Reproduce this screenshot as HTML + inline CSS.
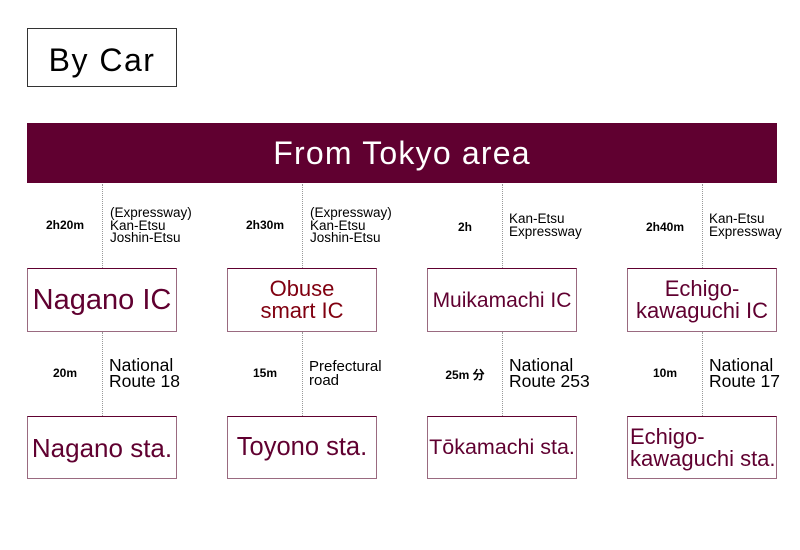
<!DOCTYPE html>
<html><head><meta charset="utf-8"><style>
body{margin:0;width:800px;height:550px;background:#fff;position:relative;font-family:"Liberation Sans","Noto Sans CJK JP",sans-serif;overflow:hidden}
.a{position:absolute}
.bc{left:27px;top:28px;width:148px;height:57px;border:1px solid #333;font-size:32px;letter-spacing:1.5px;line-height:62px;text-align:center;color:#000}
.hd{left:27px;top:123px;width:750px;height:60px;background:#600030;color:#fff;font-size:32px;letter-spacing:1.2px;line-height:60px;text-align:center}
.dl{width:0;border-left:1px dotted #999}
.bx{width:148px;border:1px solid #9a6a80;border-top-color:#600030;color:#600030;display:flex;align-items:center;justify-content:center;text-align:center;line-height:1.0}
.t{font-size:12px;font-weight:bold;width:76px;text-align:center;color:#000}
.n{font-size:13.5px;line-height:12.5px;color:#000}
.n2{font-size:17.5px;line-height:15.5px;color:#000}
</style></head><body>
<div class="a bc">By Car</div>
<div class="a hd">From Tokyo area</div>

<div class="a dl" style="left:102px;top:184px;height:84px"></div>
<div class="a dl" style="left:302px;top:184px;height:84px"></div>
<div class="a dl" style="left:502px;top:184px;height:84px"></div>
<div class="a dl" style="left:702px;top:184px;height:84px"></div>
<div class="a dl" style="left:102px;top:332px;height:84px"></div>
<div class="a dl" style="left:302px;top:332px;height:84px"></div>
<div class="a dl" style="left:502px;top:332px;height:84px"></div>
<div class="a dl" style="left:702px;top:332px;height:84px"></div>

<div class="a t" style="left:27px;top:218px">2h20m</div>
<div class="a t" style="left:227px;top:218px">2h30m</div>
<div class="a t" style="left:427px;top:220px">2h</div>
<div class="a t" style="left:627px;top:220px">2h40m</div>
<div class="a n" style="left:110px;top:207px">(Expressway)<br>Kan-Etsu<br>Joshin-Etsu</div>
<div class="a n" style="left:310px;top:207px">(Expressway)<br>Kan-Etsu<br>Joshin-Etsu</div>
<div class="a n" style="left:509px;top:213px">Kan-Etsu<br>Expressway</div>
<div class="a n" style="left:709px;top:213px">Kan-Etsu<br>Expressway</div>

<div class="a bx" style="left:27px;top:268px;height:62px;font-size:29px">Nagano IC</div>
<div class="a bx" style="left:227px;top:268px;height:62px;font-size:22px;color:#800010">Obuse<br>smart IC</div>
<div class="a bx" style="left:427px;top:268px;height:62px;font-size:21px">Muikamachi IC</div>
<div class="a bx" style="left:627px;top:268px;height:62px;font-size:22px">Echigo-<br>kawaguchi IC</div>

<div class="a t" style="left:27px;top:366px">20m</div>
<div class="a t" style="left:227px;top:366px">15m</div>
<div class="a t" style="left:427px;top:366px">25m 分</div>
<div class="a t" style="left:627px;top:366px">10m</div>
<div class="a n2" style="left:109px;top:358px">National<br>Route 18</div>
<div class="a n" style="left:309px;top:360px;font-size:15px;line-height:14px">Prefectural<br>road</div>
<div class="a n2" style="left:509px;top:358px">National<br>Route 253</div>
<div class="a n2" style="left:709px;top:358px">National<br>Route 17</div>

<div class="a bx" style="left:27px;top:416px;height:61px;font-size:26px">Nagano sta.</div>
<div class="a bx" style="left:227px;top:416px;height:61px;font-size:25.5px">Toyono sta.</div>
<div class="a bx" style="left:427px;top:416px;height:61px;font-size:21.5px">Tōkamachi sta.</div>
<div class="a bx" style="left:627px;top:416px;height:61px;font-size:22px;justify-content:flex-start;text-align:left;padding-left:2px;width:146px">Echigo-<br>kawaguchi sta.</div>
</body></html>
